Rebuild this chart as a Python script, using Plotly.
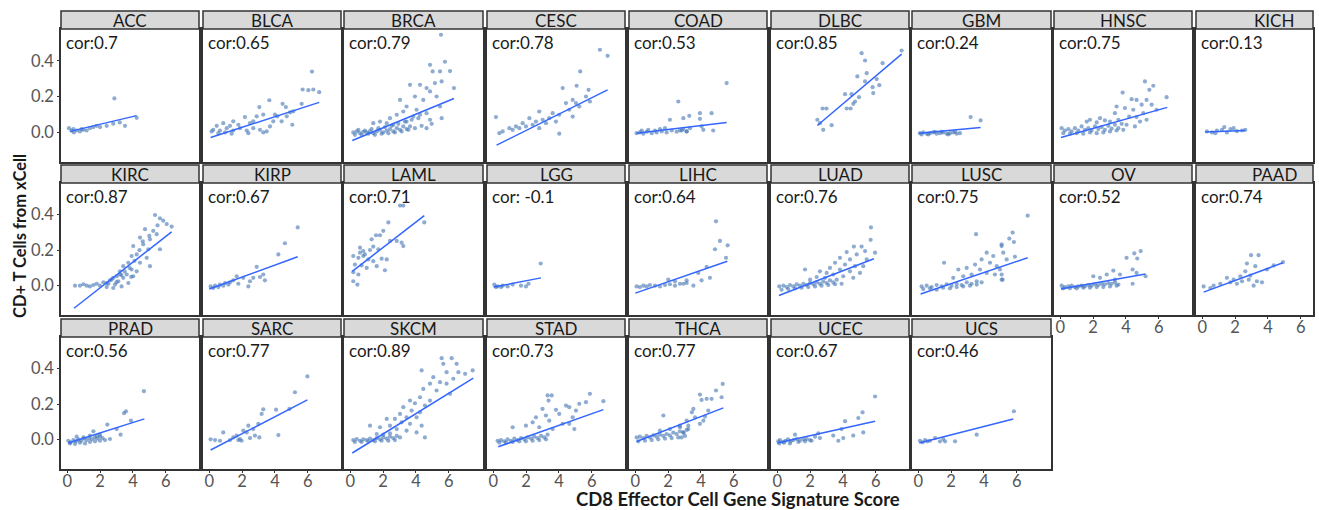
import plotly.graph_objects as go

# ---------------- data ----------------
PANELS = ["ACC", "BLCA", "BRCA", "CESC", "COAD", "DLBC", "GBM", "HNSC", "KICH",
          "KIRC", "KIRP", "LAML", "LGG", "LIHC", "LUAD", "LUSC", "OV", "PAAD",
          "PRAD", "SARC", "SKCM", "STAD", "THCA", "UCEC", "UCS"]

COR_LABELS = ["cor:0.7", "cor:0.65", "cor:0.79", "cor:0.78", "cor:0.53", "cor:0.85", "cor:0.24",
              "cor:0.75", "cor:0.13", "cor:0.87", "cor:0.67", "cor:0.71", "cor: -0.1", "cor:0.64",
              "cor:0.76", "cor:0.75", "cor:0.52", "cor:0.74", "cor:0.56", "cor:0.77", "cor:0.89",
              "cor:0.73", "cor:0.77", "cor:0.67", "cor:0.46"]

# fitted line end points per panel
FIT_X0 = [0.16, 0.08, 0.12, 0.2, 0.08, 2.44, 0.04, 0.04, 0.18, 0.41, 0.0, 0.12, 0.02, 0.0, 0.1, 0.14, 0.04, 0.08, 0.06, 0.08, 0.12, 0.3, 0.08, 0.0, 0.06]
FIT_Y0 = [0.006, -0.028, -0.045, -0.071, -0.005, 0.039, -0.004, -0.028, 0.002, -0.127, -0.019, 0.081, -0.008, -0.042, -0.055, -0.047, -0.019, -0.036, -0.019, -0.058, -0.075, -0.04, -0.01, -0.019, -0.019]
FIT_X1 = [4.23, 6.7, 6.32, 6.97, 5.57, 7.58, 3.8, 6.52, 2.62, 6.36, 5.39, 4.51, 2.91, 5.61, 5.89, 6.67, 5.2, 4.92, 4.7, 5.98, 7.5, 6.71, 5.37, 5.96, 5.79]
FIT_Y1 = [0.094, 0.168, 0.19, 0.238, 0.056, 0.438, 0.028, 0.14, 0.011, 0.303, 0.163, 0.394, 0.044, 0.138, 0.152, 0.157, 0.066, 0.129, 0.117, 0.224, 0.347, 0.169, 0.179, 0.104, 0.117]

ACC_x = [0.1, 0.26, 0.4, 0.57, 0.77, 0.98, 1.18, 1.38, 1.59, 1.79, 2.0, 2.4, 2.87, 2.8, 3.2, 3.52, 4.23, 0.37, 0.87]
ACC_y = [0.024, 0.01, 0.0, 0.011, 0.006, 0.015, 0.011, 0.024, 0.03, 0.037, 0.03, 0.037, 0.19, 0.049, 0.056, 0.037, 0.082, 0.019, 0.019]

BLCA_x = [6.26, 5.69, 6.04, 6.34, 6.7, 3.66, 4.47, 4.67, 3.05, 3.29, 2.17, 5.12, 5.63, 5.06, 4.15, 3.9, 2.68, 1.46, 0.85, 0.45, 0.24, 0.65, 1.06, 1.46, 1.87, 2.28, 2.68, 3.09, 3.5, 3.7, 4.41, 2.89, 2.48, 1.77, 1.26, 0.14, 0.55, 0.96, 1.36, 2.38, 3.29, 4.0, 4.72, 4.92]
BLCA_y = [0.34, 0.24, 0.236, 0.24, 0.225, 0.18, 0.16, 0.142, 0.142, 0.1, 0.086, 0.118, 0.16, 0.043, 0.09, 0.062, 0.062, 0.062, 0.052, 0.037, 0.015, 0.011, 0.024, 0.011, 0.024, 0.011, 0.024, 0.015, 0.006, 0.034, 0.062, 0.09, 0.052, 0.043, 0.037, 0.006, -0.004, 0.0, -0.007, -0.004, 0.0, 0.1, 0.09, 0.112]

BRCA_x = [5.53, 5.77, 6.08, 4.86, 5.47, 5.02, 5.57, 6.32, 5.16, 4.65, 4.86, 5.26, 3.64, 4.25, 3.94, 4.45, 5.47, 5.57, 3.43, 3.03, 4.04, 4.65, 3.23, 2.83, 2.42, 1.81, 1.40, 2.22, 2.62, 3.43, 3.84, 4.25, 4.86, 3.64,
          0.18, 0.39, 0.59, 0.79, 1.0, 1.2, 1.4, 1.61, 1.81, 2.01, 2.22, 2.42, 2.62, 2.83, 3.03, 3.23, 3.43,
          0.28, 0.69, 1.10, 1.5, 1.91, 2.32, 2.72, 3.13, 3.54, 3.94, 4.35, 4.65, 4.96,
          0.49, 0.89, 1.3, 1.71, 2.11, 2.52, 2.93, 3.33, 3.74, 4.15]
BRCA_y = [0.546, 0.395, 0.343, 0.378, 0.341, 0.341, 0.285, 0.248, 0.276, 0.248, 0.229, 0.201, 0.266, 0.266, 0.201, 0.182, 0.145, 0.080, 0.145, 0.182, 0.127, 0.108, 0.117, 0.099, 0.080, 0.061, 0.052, 0.052, 0.043, 0.061, 0.089, 0.099, 0.071, 0.034,
          0.0, 0.006, -0.004, 0.004, 0.0, 0.007, -0.004, 0.006, 0.015, 0.0, 0.011, 0.019, 0.006, 0.024, 0.015, 0.034, 0.019,
          -0.013, -0.013, -0.007, -0.013, -0.007, -0.004, 0.0, 0.006, 0.015, 0.024, 0.037, 0.024, 0.048,
          0.015, 0.011, 0.019, 0.024, 0.030, 0.037, 0.048, 0.061, 0.071, 0.080]

CESC_x = [6.5, 6.97, 5.3, 5.08, 4.23, 5.81, 5.65, 5.89, 4.84, 4.43, 5.24, 4.63, 3.62, 2.8, 4.02, 3.41, 3.01, 2.6, 2.2, 1.79, 1.38, 0.98, 0.57, 0.16, 0.37, 1.18, 1.59, 1.99, 2.4, 3.21, 3.82, 4.02, 4.84, 2.8, 5.04]
CESC_y = [0.462, 0.428, 0.341, 0.261, 0.248, 0.238, 0.201, 0.173, 0.182, 0.164, 0.145, 0.127, 0.108, 0.117, 0.099, 0.080, 0.071, 0.061, 0.080, 0.052, 0.034, 0.024, 0.006, 0.086, -0.004, 0.015, 0.024, 0.034, 0.043, 0.052, 0.061, -0.007, 0.089, 0.024, 0.164]

COAD_x = [5.57, 4.65, 3.94, 3.94, 3.29, 4.75, 4.15, 4.04, 3.33, 2.92, 2.72, 3.13, 2.62, 2.11, 2.93,
          0.08, 0.28, 0.49, 0.69, 1.0, 1.3, 1.61, 1.91, 2.22, 2.52, 2.83, 3.13, 0.39, 0.79, 1.2, 1.5, 1.81]
COAD_y = [0.276, 0.108, 0.108, 0.076, 0.093, 0.011, 0.015, 0.034, 0.024, 0.019, 0.011, 0.006, 0.173, 0.071, 0.080,
          -0.004, 0.0, -0.007, 0.004, -0.004, 0.0, 0.006, 0.0, 0.011, 0.004, 0.011, 0.006, 0.011, 0.015, 0.011, 0.019, 0.024]

DLBC_x = [7.58, 5.14, 5.35, 6.42, 4.88, 5.45, 6.06, 6.22, 5.81, 5.85, 5.35, 4.13, 4.53, 4.98, 4.74, 4.63, 4.23, 4.47, 2.76, 3.0, 2.44, 3.31, 2.8, 2.6]
DLBC_y = [0.458, 0.443, 0.402, 0.387, 0.313, 0.331, 0.298, 0.264, 0.253, 0.220, 0.285, 0.214, 0.214, 0.197, 0.173, 0.160, 0.134, 0.134, 0.134, 0.134, 0.071, 0.041, 0.015, 0.052]

GBM_x = [3.19, 3.8, 0.1, 0.3, 0.51, 0.71, 0.91, 1.12, 1.32, 1.52, 1.73, 1.93, 2.13, 2.34, 2.54, 0.2, 0.61, 1.02, 1.42, 1.83, 2.24]
GBM_y = [0.086, 0.067, -0.004, 0.0, -0.007, -0.004, 0.0, -0.007, -0.004, 0.0, -0.007, -0.004, 0.0, -0.007, -0.004, -0.011, -0.011, 0.004, 0.004, -0.011, 0.004]

HNSC_x = [5.16, 5.67, 5.43, 3.8, 6.48, 4.35, 4.65, 5.26, 4.96, 5.57, 3.43, 3.94, 4.45, 5.06, 5.87, 4.2, 4.65, 3.33, 3.54, 4.04, 4.55, 4.86, 5.26, 2.42, 1.81, 3.03,
          0.08, 0.28, 0.49, 0.69, 0.89, 1.1, 1.3, 1.5, 1.71, 1.91, 2.11, 2.32, 2.52, 2.72, 2.93, 3.13, 3.33, 3.54, 3.74,
          0.18, 0.59, 1.0, 1.4, 1.81, 2.22, 2.62, 3.03, 3.43, 3.84, 1.61, 2.22, 2.72]
HNSC_y = [0.285, 0.261, 0.238, 0.223, 0.197, 0.186, 0.182, 0.182, 0.155, 0.155, 0.145, 0.136, 0.127, 0.108, 0.127, 0.089, 0.086, 0.108, 0.071, 0.043, 0.034, 0.061, 0.071, 0.080, 0.071, 0.061,
          0.024, 0.011, 0.019, 0.006, 0.024, 0.011, 0.034, 0.015, 0.024, 0.011, 0.034, 0.019, 0.030, 0.015, 0.037, 0.022, 0.043, 0.024, 0.048,
          -0.004, -0.007, -0.004, -0.007, 0.0, -0.004, 0.0, 0.006, 0.011, 0.015, 0.061, 0.056, 0.067]

KICH_x = [0.28, 0.59, 0.89, 1.2, 1.34, 1.71, 1.91, 2.11, 2.42, 2.62, 0.79, 1.5]
KICH_y = [0.006, 0.0, 0.011, 0.015, 0.030, 0.019, 0.024, 0.007, 0.011, 0.015, -0.004, 0.0]

KIRC_x = [5.35, 5.65, 5.85, 6.06, 6.36, 4.74, 5.24, 5.45, 5.04, 4.43, 4.02, 4.63, 4.94, 5.65, 4.23, 3.92, 4.84, 3.72, 4.43, 5.04, 3.41, 3.92, 3.21, 3.62, 3.01, 3.41, 4.02, 2.7, 3.11, 2.2, 2.5, 2.91, 1.99, 1.59, 1.18, 0.77, 0.47, 0.98, 1.38, 1.79, 2.4, 2.8, 3.31, 3.72, 4.23, 3.21, 2.8,
          2.6, 3.0, 3.5, 3.8, 4.1, 4.4, 3.3, 2.4, 3.9, 4.6, 5.0, 5.5]
KIRC_y = [0.398, 0.379, 0.366, 0.347, 0.333, 0.318, 0.309, 0.290, 0.261, 0.271, 0.223, 0.233, 0.205, 0.205, 0.176, 0.167, 0.157, 0.129, 0.129, 0.110, 0.110, 0.091, 0.081, 0.063, 0.053, 0.044, 0.053, 0.034, 0.025, 0.019, 0.011, 0.006, 0.0, 0.004, 0.0, 0.0, 0.0, 0.008, -0.004, 0.011, -0.008, -0.013, -0.004, 0.015, 0.081, 0.063, 0.044,
          0.03, 0.02, 0.08, 0.1, 0.14, 0.2, 0.06, 0.015, 0.05, 0.25, 0.28, 0.34]

KIRP_x = [5.39, 4.61, 4.21, 2.89, 3.29, 3.39, 3.09, 2.38, 2.48, 2.07, 1.67, 1.46, 1.26, 0.96, 0.65, 0.35, 0.08, 0.24, 0.55, 0.85, 1.16, 1.77, 2.68]
KIRP_y = [0.328, 0.239, 0.176, 0.106, 0.063, 0.030, 0.049, -0.004, 0.025, 0.044, 0.053, 0.030, 0.019, 0.015, 0.006, 0.0, -0.004, -0.013, -0.008, 0.0, 0.006, 0.011, 0.044]

LAML_x = [3.03, 3.23, 4.51, 2.32, 1.57, 1.81, 1.3, 2.01, 2.42, 2.83, 3.13, 3.23, 0.59, 0.79, 1.2, 1.4, 0.18, 0.49, 0.79, 1.1, 1.4, 1.91, 2.22, 0.28, 0.69, 1.0, 1.61, 2.11, 0.18, 0.49, 0.18, 0.43, 0.89, 1.71, 0.59]
LAML_y = [0.451, 0.451, 0.356, 0.356, 0.284, 0.284, 0.261, 0.309, 0.252, 0.252, 0.242, 0.223, 0.214, 0.195, 0.201, 0.220, 0.167, 0.157, 0.167, 0.148, 0.138, 0.152, 0.148, 0.119, 0.114, 0.100, 0.110, 0.087, 0.076, 0.063, 0.025, 0.006, 0.176, 0.205, 0.186]

LGG_x = [2.89, 0.06, 0.26, 0.57, 0.87, 1.18, 1.69, 1.99, 2.15, 0.16, 0.47]
LGG_y = [0.125, 0.006, -0.004, 0.0, -0.004, 0.006, 0.0, -0.004, 0.011, -0.008, -0.008]

LIHC_x = [4.92, 5.16, 5.63, 4.86, 5.53, 4.55, 4.04, 3.54, 4.35, 2.93, 3.13, 3.84, 0.08, 0.28, 0.49, 0.69, 0.89, 1.2, 1.5, 1.81, 2.11, 2.42, 2.72, 3.13, 2.01, 2.42]
LIHC_y = [0.362, 0.252, 0.227, 0.205, 0.157, 0.044, 0.030, 0.0, 0.106, 0.011, 0.030, 0.072, -0.004, -0.008, 0.0, -0.004, 0.004, 0.0, -0.004, 0.004, 0.008, 0.0, 0.011, 0.015, 0.034, 0.025]

LUAD_x = [5.71, 5.69, 5.14, 4.67, 5.35, 5.96, 4.23, 4.84, 3.82, 4.43, 5.45, 3.52, 4.13, 4.74, 5.24, 3.21, 3.82, 4.43, 5.04, 1.69, 2.6, 3.01, 3.41, 4.02, 4.63, 2.4, 2.91, 2.0,
          0.12, 0.37, 0.57, 0.77, 0.98, 1.18, 1.38, 1.59, 1.79, 1.99, 2.2, 2.4, 2.6, 2.8, 3.01, 3.21, 3.41, 3.62,
          0.26, 0.67, 1.08, 1.48, 1.89, 2.3, 2.7, 3.11, 3.52, 3.92]
LUAD_y = [0.328, 0.258, 0.220, 0.220, 0.195, 0.186, 0.189, 0.176, 0.157, 0.148, 0.148, 0.129, 0.119, 0.110, 0.110, 0.100, 0.091, 0.081, 0.072, 0.091, 0.081, 0.072, 0.063, 0.053, 0.044, 0.049, 0.044, 0.034,
          -0.004, 0.0, -0.008, 0.004, -0.004, 0.008, 0.0, 0.011, 0.004, 0.015, 0.008, 0.019, 0.011, 0.023, 0.015, 0.030, 0.019, 0.034,
          -0.023, -0.019, -0.015, -0.011, -0.008, -0.004, 0.0, 0.004, 0.008, 0.011]

LUSC_x = [6.67, 5.75, 5.55, 5.83, 5.08, 5.18, 5.39, 5.89, 4.98, 5.08, 5.14,
          3.52, 1.57, 5.08, 4.57, 4.17, 3.86, 4.37, 4.78, 3.46, 2.95, 2.44, 3.76, 4.17, 4.67, 5.08, 3.25, 2.74, 2.13,
          0.2, 0.51, 0.81, 1.12, 1.42, 1.73, 2.03, 2.34, 2.64, 2.95, 3.25, 3.56, 3.86,
          0.3, 0.71, 1.12, 1.52, 1.93, 2.34, 2.74, 3.15, 3.56]
LUSC_y = [0.394, 0.299, 0.265, 0.246, 0.223, 0.186, 0.148, 0.163, 0.091, 0.063, 0.034,
          0.290, 0.129, 0.233, 0.167, 0.186, 0.148, 0.129, 0.110, 0.119, 0.100, 0.091, 0.091, 0.072, 0.063, 0.034, 0.063, 0.053, 0.044,
          -0.004, 0.0, -0.008, 0.004, -0.004, 0.008, 0.0, 0.011, 0.004, 0.019, 0.011, 0.025, 0.019,
          -0.019, -0.015, -0.023, -0.011, -0.015, -0.008, -0.004, 0.0, 0.006]

OV_x = [4.9, 4.51, 4.04, 4.69, 4.41, 4.65, 5.2, 4.41, 3.23, 3.64, 2.83, 2.42, 2.01, 3.33, 3.54,
        0.08, 0.28, 0.49, 0.69, 0.89, 1.1, 1.3, 1.5, 1.71, 1.91, 2.11, 2.32, 2.52, 2.72, 2.93, 3.13, 3.33,
        0.18, 0.59, 1.0, 1.4, 1.81, 2.22, 2.62, 3.03, 3.43]
OV_y = [0.195, 0.182, 0.157, 0.153, 0.091, 0.072, 0.053, 0.011, 0.085, 0.063, 0.063, 0.044, 0.053, 0.034, 0.006,
        0.0, -0.008, -0.004, 0.0, -0.008, -0.004, 0.0, -0.004, 0.004, 0.0, 0.008, 0.004, 0.011, 0.008, 0.015, 0.011, 0.019,
        -0.015, -0.015, -0.015, -0.011, -0.011, -0.008, -0.008, -0.004, 0.0]

PAAD_x = [4.92, 2.97, 3.43, 2.72, 3.23, 2.62, 2.93, 3.33, 3.64, 3.13, 2.32, 1.91, 1.5, 1.71, 2.11, 1.1, 0.69, 0.08, 0.49, 2.42, 2.83, 3.94, 4.35]
PAAD_y = [0.133, 0.172, 0.172, 0.125, 0.110, 0.081, 0.057, 0.025, 0.019, 0.0, 0.053, 0.034, 0.044, 0.019, 0.011, 0.011, 0.0, -0.004, -0.013, 0.025, 0.034, 0.091, 0.114]

PRAD_x = [4.67, 3.58, 3.46, 3.88, 2.44, 3.01, 3.25, 2.6, 1.59, 1.99,
          0.06, 0.2, 0.37, 0.53, 0.69, 0.85, 1.02, 1.18, 1.34, 1.5, 1.67, 1.83, 1.99, 2.15,
          0.16, 0.47, 0.77, 1.08, 1.38, 1.69, 1.99, 2.3, 0.57, 0.98, 1.38, 1.79]
PRAD_y = [0.273, 0.160, 0.149, 0.107, 0.085, 0.060, 0.028, 0.004, 0.047, 0.028,
          -0.006, -0.015, -0.002, -0.009, 0.002, -0.006, 0.006, -0.002, 0.009, 0.002, 0.013, 0.006, 0.017, 0.009,
          -0.021, -0.024, -0.017, -0.021, -0.013, -0.009, -0.006, -0.002, 0.017, 0.013, 0.023, 0.021]

SARC_x = [5.98, 5.22, 4.88, 4.07, 3.29, 3.19, 4.21, 3.05, 2.99, 2.68, 2.38, 2.28, 2.48, 2.07, 1.87, 1.67, 1.46, 0.85, 1.26, 0.65, 0.35, 0.08, 1.77, 1.97, 2.78]
SARC_y = [0.356, 0.267, 0.173, 0.169, 0.171, 0.145, 0.026, 0.013, 0.089, 0.060, 0.079, 0.041, 0.009, 0.051, 0.004, 0.023, 0.013, 0.041, -0.002, -0.006, -0.002, 0.002, -0.002, -0.006, 0.023]

SKCM_x = [5.57, 6.18, 5.67, 6.48, 4.35, 5.87, 6.59, 7.0, 7.46, 5.06, 5.47, 5.87, 6.28, 4.86, 4.45, 5.26, 6.08, 4.25, 3.64, 4.86, 3.94, 4.55, 3.23, 3.74, 4.25, 3.03, 3.43, 4.04, 2.72, 3.13, 3.64, 4.35, 2.22, 2.42, 1.81, 1.2, 2.83, 3.43, 4.55, 4.04,
          0.18, 0.39, 0.59, 0.79, 1.0, 1.2, 1.4, 1.61, 1.81, 2.01, 2.22, 2.42, 2.62, 2.83, 3.03,
          0.28, 0.69, 1.1, 1.5, 1.91, 2.32, 2.72, 1.61, 2.01, 2.42]
SKCM_y = [0.459, 0.459, 0.427, 0.427, 0.390, 0.380, 0.380, 0.371, 0.390, 0.352, 0.324, 0.315, 0.343, 0.315, 0.286, 0.277, 0.258, 0.239, 0.220, 0.220, 0.205, 0.192, 0.183, 0.164, 0.154, 0.145, 0.126, 0.126, 0.117, 0.098, 0.089, 0.079, 0.117, 0.079, 0.070, 0.079, 0.060, 0.051, 0.013, 0.041,
          -0.002, 0.004, -0.006, 0.002, -0.002, 0.006, -0.002, 0.009, 0.002, 0.013, 0.006, 0.017, 0.009, 0.021, 0.013,
          -0.013, -0.013, -0.009, -0.009, -0.006, -0.006, -0.002, 0.032, 0.028, 0.036]

STAD_x = [3.31, 3.56, 5.89, 3.37, 4.43, 4.63, 5.65, 6.71, 5.24, 3.0, 3.82, 5.04, 3.21, 4.02, 4.84, 2.6, 2.4, 3.41, 4.23, 1.99, 2.8, 3.62, 1.18, 4.63, 4.94,
          0.26, 0.47, 0.67, 0.87, 1.08, 1.28, 1.48, 1.69, 1.89, 2.09, 2.3, 2.5, 2.7, 2.91, 3.11, 3.31,
          0.37, 0.77, 1.18, 1.59, 1.99, 2.4, 2.8, 3.21]
STAD_y = [0.249, 0.249, 0.258, 0.220, 0.192, 0.183, 0.211, 0.217, 0.202, 0.173, 0.168, 0.164, 0.136, 0.145, 0.126, 0.126, 0.098, 0.107, 0.089, 0.079, 0.070, 0.060, 0.070, 0.089, 0.060,
          -0.006, -0.002, -0.009, 0.002, -0.006, 0.006, -0.002, 0.009, 0.002, 0.013, 0.006, 0.017, 0.009, 0.021, 0.013, 0.028,
          -0.017, -0.017, -0.013, -0.009, -0.009, -0.006, -0.002, 0.002]

THCA_x = [5.33, 5.26, 4.92, 4.65, 4.35, 4.04, 3.94, 4.45, 3.54, 3.45, 3.64, 4.15, 3.13, 2.72, 3.23, 2.93, 2.82, 3.94, 4.25, 1.71,
          0.08, 0.28, 0.49, 0.69, 0.89, 1.1, 1.3, 1.5, 1.71, 1.91, 2.11, 2.32, 2.52, 2.72, 2.93, 3.13,
          0.18, 0.59, 1.0, 1.4, 1.81, 2.22, 2.62, 3.03, 1.5, 2.11, 2.72, 3.23]
THCA_y = [0.314, 0.239, 0.277, 0.230, 0.230, 0.224, 0.254, 0.164, 0.173, 0.154, 0.126, 0.107, 0.107, 0.079, 0.060, 0.041, 0.013, 0.089, 0.130, 0.136,
          0.013, 0.017, 0.009, 0.021, 0.013, 0.024, 0.017, 0.028, 0.021, 0.032, 0.024, 0.040, 0.032, 0.047, 0.040, 0.055,
          -0.009, -0.006, -0.002, 0.002, 0.006, 0.009, 0.013, 0.021, 0.051, 0.060, 0.070, 0.079]

UCEC_x = [5.96, 5.2, 4.94, 4.13, 4.63, 5.24, 3.92, 4.02, 3.72, 3.41, 2.5, 2.3, 1.08, 1.79, 2.09,
          0.06, 0.16, 0.33, 0.49, 0.65, 0.81, 0.98, 1.18, 1.38, 1.59, 0.12, 0.41, 0.77, 1.28, 1.69, 1.99, 2.6]
UCEC_y = [0.243, 0.154, 0.122, 0.104, 0.023, 0.041, 0.060, 0.009, -0.006, 0.023, 0.036, 0.017, 0.028, 0.004, -0.006,
          -0.009, -0.002, -0.013, -0.006, 0.002, -0.009, -0.002, 0.004, -0.006, 0.002, -0.021, -0.017, -0.021, -0.013, -0.009, -0.002, 0.009]

UCS_x = [5.83, 3.56, 2.24, 1.52, 1.02, 0.1, 0.26, 0.41, 0.55, 0.71, 1.32, 1.63]
UCS_y = [0.160, 0.028, -0.009, 0.004, 0.009, -0.006, -0.015, -0.002, -0.009, -0.006, -0.009, -0.009]

Y_TICKS = [0.0, 0.2, 0.4]
Y_TICK_TEXT = ["0.0", "0.2", "0.4"]
X_TICKS = [0, 2, 4, 6]
X_TITLE = "CD8 Effector Cell Gene Signature Score"
Y_TITLE = "CD+ T Cells from xCell"

POINTS = {
    "ACC": (ACC_x, ACC_y), "BLCA": (BLCA_x, BLCA_y), "BRCA": (BRCA_x, BRCA_y), "CESC": (CESC_x, CESC_y),
    "COAD": (COAD_x, COAD_y), "DLBC": (DLBC_x, DLBC_y), "GBM": (GBM_x, GBM_y), "HNSC": (HNSC_x, HNSC_y),
    "KICH": (KICH_x, KICH_y), "KIRC": (KIRC_x, KIRC_y), "KIRP": (KIRP_x, KIRP_y), "LAML": (LAML_x, LAML_y),
    "LGG": (LGG_x, LGG_y), "LIHC": (LIHC_x, LIHC_y), "LUAD": (LUAD_x, LUAD_y), "LUSC": (LUSC_x, LUSC_y),
    "OV": (OV_x, OV_y), "PAAD": (PAAD_x, PAAD_y), "PRAD": (PRAD_x, PRAD_y), "SARC": (SARC_x, SARC_y),
    "SKCM": (SKCM_x, SKCM_y), "STAD": (STAD_x, STAD_y), "THCA": (THCA_x, THCA_y), "UCEC": (UCEC_x, UCEC_y),
    "UCS": (UCS_x, UCS_y),
}

# ---------------- layout geometry (pixels) ----------------
W, H = 1319, 510
COL_L = [61, 203, 344, 487, 629, 771, 912, 1054, 1196]
COL_R = [199, 341, 483, 625, 767, 909, 1051, 1192, 1313]
ROW_T = [29, 183, 337]
ROW_B = [162, 315, 469]
STRIP_H = 18
XMIN = -0.385
X_PX_PER_UNIT = 16.4
Y_RANGE = [-0.165, 0.578]
FONT = "Lato, Open Sans, sans-serif"
BORDER = "#333333"

def fx(p):
    return p / W

def fy(p):
    return 1 - p / H

fig = go.Figure()
layout = dict(
    width=W, height=H, margin=dict(l=0, r=0, t=0, b=0),
    paper_bgcolor="white", plot_bgcolor="white", showlegend=False,
    font=dict(family=FONT, color="#1a1a1a"),
)
shapes, annotations = [], []

for i, name in enumerate(PANELS):
    r, c = divmod(i, 9)
    k = i + 1
    sfx = "" if k == 1 else str(k)
    L, R, T, B = COL_L[c], COL_R[c], ROW_T[r], ROW_B[r]
    xs, ys = POINTS[name]
    fig.add_trace(go.Scatter(
        x=xs, y=ys, mode="markers", xaxis="x" + sfx, yaxis="y" + sfx,
        marker=dict(size=4.2, color="#4274b3", opacity=0.6, line=dict(width=0)),
        hoverinfo="skip"))
    fig.add_trace(go.Scatter(
        x=[FIT_X0[i], FIT_X1[i]], y=[FIT_Y0[i], FIT_Y1[i]], mode="lines",
        xaxis="x" + sfx, yaxis="y" + sfx,
        line=dict(color="#3366FF", width=1.5), hoverinfo="skip"))

    show_x = (r == 2) or (r == 1 and c >= 7)
    show_y = (c == 0)
    layout["xaxis" + sfx] = dict(
        domain=[fx(L), fx(R)], range=[XMIN, XMIN + (R - L) / X_PX_PER_UNIT],
        anchor="y" + sfx, showgrid=False, zeroline=False,
        showline=True, mirror=True, linecolor=BORDER, linewidth=1.5,
        tickvals=X_TICKS, showticklabels=show_x,
        ticks="outside" if show_x else "", ticklen=2, tickcolor=BORDER,
        ticklabelstandoff=-6,
        tickfont=dict(size=16.5, color="#555555", family=FONT))
    layout["yaxis" + sfx] = dict(
        domain=[fy(B), fy(T)], range=Y_RANGE,
        anchor="x" + sfx, showgrid=False, zeroline=False,
        showline=True, mirror=True, linecolor=BORDER, linewidth=1.5,
        tickvals=Y_TICKS, ticktext=Y_TICK_TEXT, showticklabels=show_y,
        ticks="outside" if show_y else "", ticklen=2, tickcolor=BORDER,
        tickfont=dict(size=16.5, color="#555555", family=FONT))

    # strip
    shapes.append(dict(type="rect", xref="paper", yref="paper",
                       x0=fx(L), x1=fx(R), y0=fy(T), y1=fy(T - STRIP_H),
                       fillcolor="#d9d9d9", line=dict(color=BORDER, width=1.5)))
    cx = (L + R) / 2 if c < 8 else 1274
    annotations.append(dict(text=name, xref="paper", yref="paper",
                            x=fx(cx), y=fy(T - STRIP_H / 2 + 0.5), xanchor="center", yanchor="middle",
                            showarrow=False, font=dict(size=17, color="#1a1a1a", family=FONT)))
    annotations.append(dict(text=COR_LABELS[i], xref="paper", yref="paper",
                            x=fx(L + 3), y=fy(T + 1), xanchor="left", yanchor="top",
                            showarrow=False, font=dict(size=17, color="#1a1a1a", family=FONT)))

annotations.append(dict(text="<b>" + X_TITLE + "</b>", xref="paper", yref="paper",
                        x=fx(738), y=fy(499), xanchor="center", yanchor="middle",
                        showarrow=False, font=dict(size=18.5, color="#1a1a1a", family=FONT)))
annotations.append(dict(text="<b>" + Y_TITLE + "</b>", xref="paper", yref="paper",
                        x=fx(20), y=fy(236), xanchor="center", yanchor="middle", textangle=-90,
                        showarrow=False, font=dict(size=16.5, color="#1a1a1a", family=FONT)))

layout["shapes"] = shapes
layout["annotations"] = annotations
fig.update_layout(**layout)
fig.write_html("out.html")
